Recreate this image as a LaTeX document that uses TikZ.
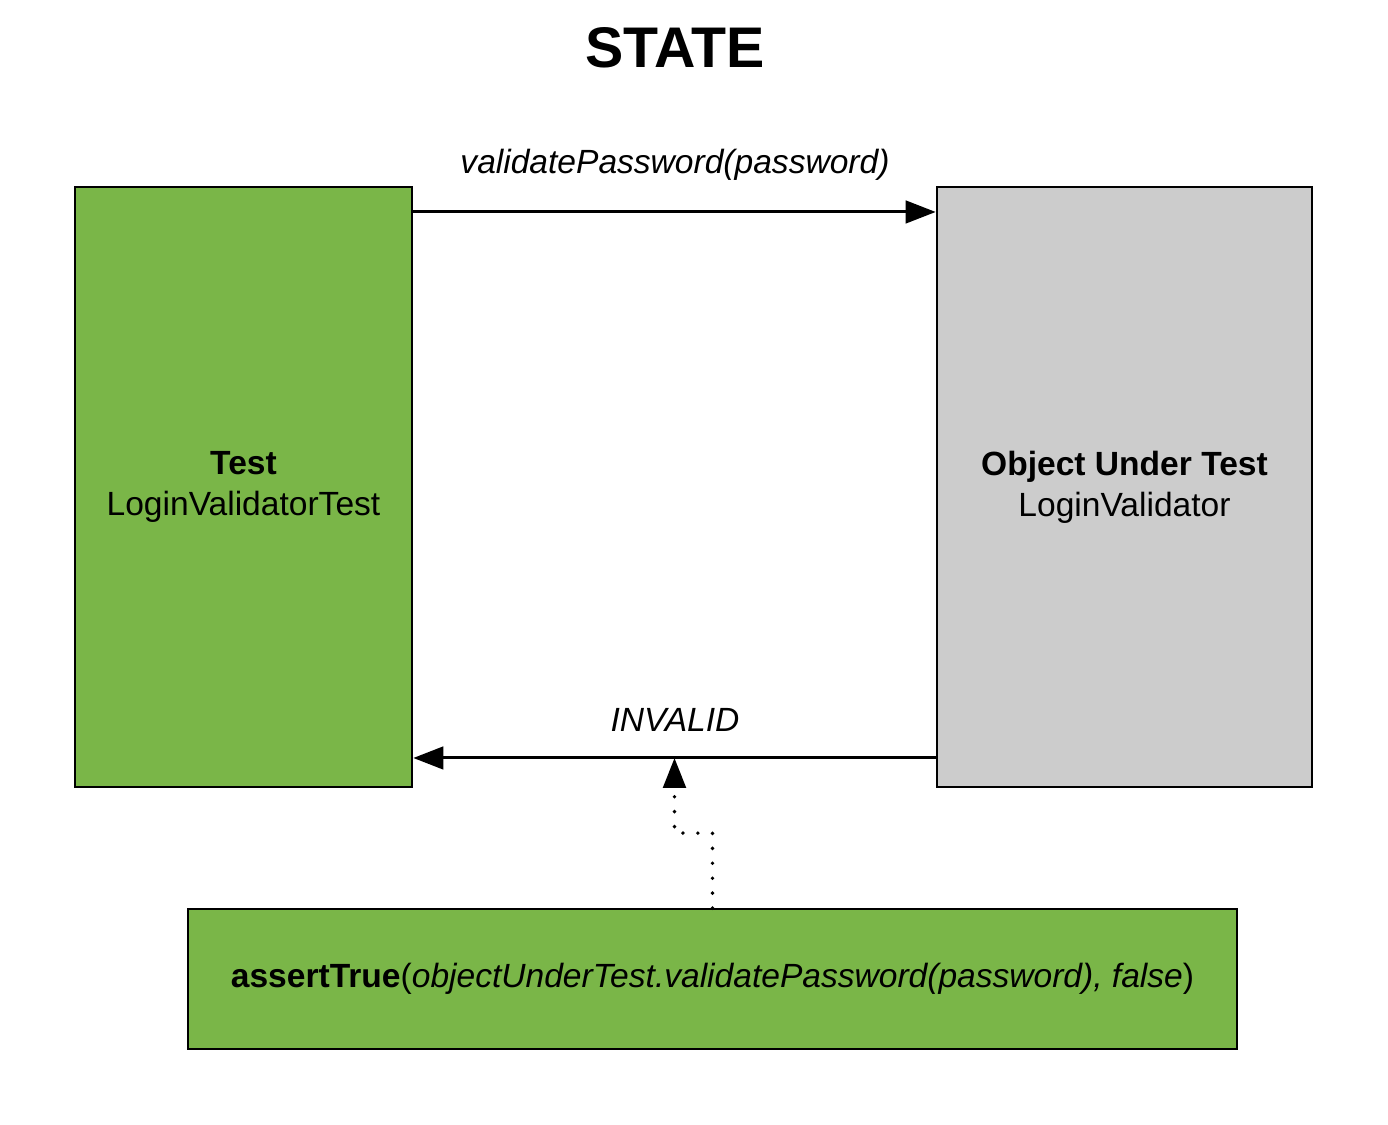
\documentclass[tikz,border=0pt]{standalone}
\usepackage{fontspec}
\setmainfont{Liberation Sans}
\usetikzlibrary{arrows.meta}
\definecolor{testgreen}{HTML}{7AB648}
\definecolor{cutgray}{HTML}{CCCCCC}
\tikzset{
	box/.style={draw=black, line width=1.5pt, align=center, font=\fontsize{19.1}{23.4}\selectfont},
	msg/.style={line width=1.7pt, -{Triangle[length=0.6cm, width=0.45cm]}},
	lbl/.style={font=\fontsize{19.1}{23.4}\selectfont\itshape}
}
\begin{document}
\begin{tikzpicture}
		%%%%% START %%%%%
		\useasboundingbox (0, 0) rectangle (27.76, 22.5);
		
		\node[font=\fontsize{32.6}{38}\selectfont\bfseries] (title) at (13.5, 21.54) {STATE};
		
		\node[box, fill=testgreen, minimum width=6.74cm, minimum height=12cm] (test) at (4.87, 12.76) {\textbf{Test}\\LoginValidatorTest};
		\node[box, fill=cutgray, minimum width=7.5cm, minimum height=12cm] (cut) at (22.49, 12.76) {\textbf{Object Under Test}\\LoginValidator};
		\node[box, line width=1pt, fill=testgreen, minimum width=20.98cm, minimum height=2.8cm] (assert) at (14.25, 2.92) {\textbf{assertTrue}(\textit{objectUnderTest.validatePassword(password), false})};
		
		\draw[msg] (test.east |- 0, 18.26) -- (cut.west |- 0, 18.26);
		\node[lbl] (call) at (13.5, 19.2) {validatePassword(password)};
		
		\draw[msg] (cut.west |- 0, 7.34) -- coordinate[pos=0.5] (ret) (test.east |- 0, 7.34);
		\node[lbl] (result) at (13.5, 8.1) {INVALID};
		
		\draw[line width=2.2pt, line cap=round, dash pattern=on 0pt off 8.5pt, -{Triangle[length=0.6cm, width=0.45cm]}] (assert.north) -- ++(0, 1.5) -| (ret);
		%%%%% END %%%%%
\end{tikzpicture}
\end{document}
